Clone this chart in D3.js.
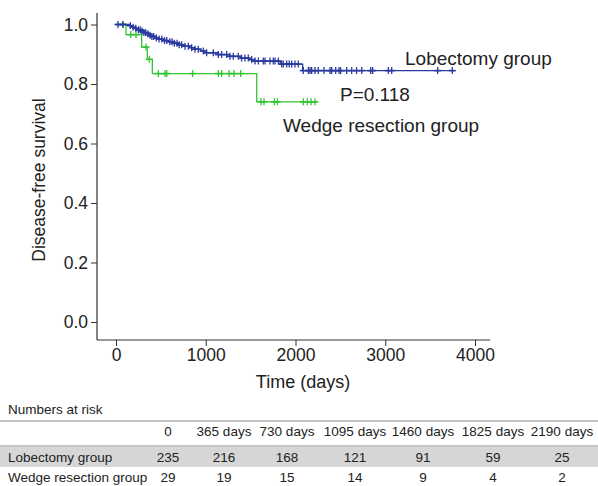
<!DOCTYPE html>
<html>
<head>
<meta charset="utf-8">
<script src="https://cdn.jsdelivr.net/npm/d3@7"></script>
<style>
  body { margin: 0; background: #fff; }
  text { font-family: "Liberation Sans", Arial, sans-serif; fill: #222; }
</style>
</head>
<body>
<div class="km-plot"></div>
<script>
// Kaplan-Meier steps: event time (days) and survival after it
const lobTimes = [150, 175, 205, 240, 275, 310, 335, 370, 400, 430, 470, 520, 590, 640, 700, 750, 830, 880, 940, 990, 1130, 1260, 1390, 1480, 1540, 1830, 2080];
const lobSurv  = [0.996, 0.991, 0.987, 0.982, 0.978, 0.973, 0.969, 0.964, 0.960, 0.955, 0.951, 0.946, 0.942, 0.937, 0.932, 0.927, 0.922, 0.917, 0.911, 0.905, 0.899, 0.893, 0.887, 0.882, 0.877, 0.867, 0.845];
const lobEnd = 3777;
const lobCensor = [22, 78, 160, 190, 220, 250, 270, 290, 310, 330, 355, 380, 400, 420, 450, 480, 510, 540, 565, 600, 625, 650, 680, 705, 732, 769, 806, 843, 880, 917, 973, 1010, 1084, 1140, 1177, 1233, 1270, 1307, 1362, 1399, 1437, 1474, 1512, 1549, 1586, 1641, 1660, 1716, 1753, 1772, 1809, 1846, 1864, 1902, 1930, 1957, 1994, 2031, 2087, 2143, 2162, 2180, 2217, 2254, 2318, 2384, 2403, 2448, 2485, 2503, 2570, 2626, 2680, 2738, 2838, 2860, 3034, 3072, 3584, 3747];

const wedTimes = [111, 286, 349, 405, 1568];
const wedSurv  = [0.966, 0.924, 0.883, 0.835, 0.740];
const wedEnd = 2243;
const wedCensor = [74, 164, 223, 334, 371, 472, 546, 565, 854, 1140, 1177, 1260, 1315, 1389, 1616, 1649, 1764, 1797, 2087, 2132, 2173, 2217];

const xTicks = [0, 1000, 2000, 3000, 4000];
const yTicks = [0, 0.2, 0.4, 0.6, 0.8, 1.0];

// numbers at risk table
const riskCols = ["0", "365 days", "730 days", "1095 days", "1460 days", "1825 days", "2190 days"];
const riskGroups = ["Lobectomy group", "Wedge resection group"];
const lobRisk = [235, 216, 168, 121, 91, 59, 25];
const wedRisk = [29, 19, 15, 14, 9, 4, 2];

const width = 598;
const height = 486;
const blue = "#2b3a9f";
const green = "#35c435";

const svg = d3.select('.km-plot')
  .append("svg")
  .attr("width", width)
  .attr("height", height);

const x = d3.scaleLinear().domain([0, 4000]).range([116, 475]);
const y = d3.scaleLinear().domain([0, 1]).range([322, 24.5]);

// axes (L-shaped frame like base R)
const axisColor = "#333";
svg.append("line").attr("x1", 97).attr("x2", 97).attr("y1", 13).attr("y2", 340)
  .attr("stroke", axisColor).attr("stroke-width", 1.2);
svg.append("line").attr("x1", 97).attr("x2", 490).attr("y1", 340).attr("y2", 340)
  .attr("stroke", axisColor).attr("stroke-width", 1.2);

const yAxis = svg.append("g")
  .attr("transform", "translate(97,0)")
  .call(d3.axisLeft(y).tickValues(yTicks).tickFormat(d3.format(".1f")).tickSize(6).tickPadding(3));
const xAxis = svg.append("g")
  .attr("transform", "translate(0,340)")
  .call(d3.axisBottom(x).tickValues(xTicks).tickFormat(d3.format("d")).tickSize(6).tickPadding(3));
[yAxis, xAxis].forEach(g => {
  g.select(".domain").remove();
  g.selectAll("line").attr("stroke", axisColor);
  g.selectAll("text").attr("font-size", "17.5px").attr("fill", "#222")
    .style("font-family", '"Liberation Sans", Arial, sans-serif');
});

svg.append("text")
  .attr("transform", "translate(45,180) rotate(-90)")
  .attr("text-anchor", "middle")
  .attr("font-size", "17.5px")
  .text("Disease-free survival");

svg.append("text")
  .attr("x", 303).attr("y", 388)
  .attr("text-anchor", "middle")
  .attr("font-size", "18px")
  .text("Time (days)");

// survival curves
const stepPoints = (times, surv, end) => {
  const pts = [[0, 1]];
  times.forEach((t, i) => pts.push([t, surv[i]]));
  pts.push([end, surv[surv.length - 1]]);
  return pts;
};
const survAt = (times, surv, t) => {
  let s = 1;
  times.forEach((tt, i) => { if (tt <= t) s = surv[i]; });
  return s;
};

const line = d3.line()
  .x(d => x(d[0]))
  .y(d => y(d[1]))
  .curve(d3.curveStepAfter);

const groups = [
  { times: wedTimes, surv: wedSurv, end: wedEnd, censor: wedCensor, color: green },
  { times: lobTimes, surv: lobSurv, end: lobEnd, censor: lobCensor, color: blue }
];

groups.forEach(g => {
  svg.append("path")
    .datum(stepPoints(g.times, g.surv, g.end))
    .attr("d", line)
    .attr("fill", "none")
    .attr("stroke", g.color)
    .attr("stroke-width", 1.3);

  const marks = svg.append("g");
  marks.selectAll("line.v")
    .data(g.censor)
    .enter()
    .append("line")
    .attr("class", "v")
    .attr("x1", d => x(d)).attr("x2", d => x(d))
    .attr("y1", d => y(survAt(g.times, g.surv, d)) - 3.5)
    .attr("y2", d => y(survAt(g.times, g.surv, d)) + 3.5)
    .attr("stroke", g.color)
    .attr("stroke-width", 1.3);
  marks.selectAll("line.h")
    .data(g.censor)
    .enter()
    .append("line")
    .attr("class", "h")
    .attr("x1", d => x(d) - 3.5).attr("x2", d => x(d) + 3.5)
    .attr("y1", d => y(survAt(g.times, g.surv, d)))
    .attr("y2", d => y(survAt(g.times, g.surv, d)))
    .attr("stroke", g.color)
    .attr("stroke-width", 1.6);
});

// curve labels
svg.append("text").attr("x", 405).attr("y", 65).attr("font-size", "19px").text("Lobectomy group");
svg.append("text").attr("x", 340).attr("y", 101).attr("font-size", "19px").text("P=0.118");
svg.append("text").attr("x", 283).attr("y", 132).attr("font-size", "19px").text("Wedge resection group");

// numbers at risk table
const colX = [168, 224, 287, 355, 423, 493, 562];
const rowY = [457, 477];

svg.append("text").attr("x", 8).attr("y", 414).attr("font-size", "13.5px").text("Numbers at risk");
svg.append("line").attr("x1", 0).attr("x2", width).attr("y1", 421).attr("y2", 421)
  .attr("stroke", "#888").attr("stroke-width", 1);
svg.append("line").attr("x1", 0).attr("x2", width).attr("y1", 446).attr("y2", 446)
  .attr("stroke", "#888").attr("stroke-width", 1);
svg.append("rect").attr("x", 0).attr("y", 447).attr("width", width).attr("height", 20)
  .attr("fill", "#d6d6d6");

svg.selectAll(".col-label")
  .data(riskCols)
  .enter()
  .append("text")
  .attr("class", "col-label")
  .attr("x", (d, i) => colX[i])
  .attr("y", 436)
  .attr("text-anchor", "middle")
  .attr("font-size", "13.5px")
  .text(d => d);

svg.selectAll(".row-label")
  .data(riskGroups)
  .enter()
  .append("text")
  .attr("class", "row-label")
  .attr("x", 8)
  .attr("y", (d, i) => rowY[i] + 5)
  .attr("font-size", "13.5px")
  .text(d => d);

[lobRisk, wedRisk].forEach((row, r) => {
  svg.selectAll(".risk-" + r)
    .data(row)
    .enter()
    .append("text")
    .attr("class", "risk-" + r)
    .attr("x", (d, i) => colX[i])
    .attr("y", rowY[r] + 5)
    .attr("text-anchor", "middle")
    .attr("font-size", "13.5px")
    .text(d => d);
});
</script>
</body>
</html>
